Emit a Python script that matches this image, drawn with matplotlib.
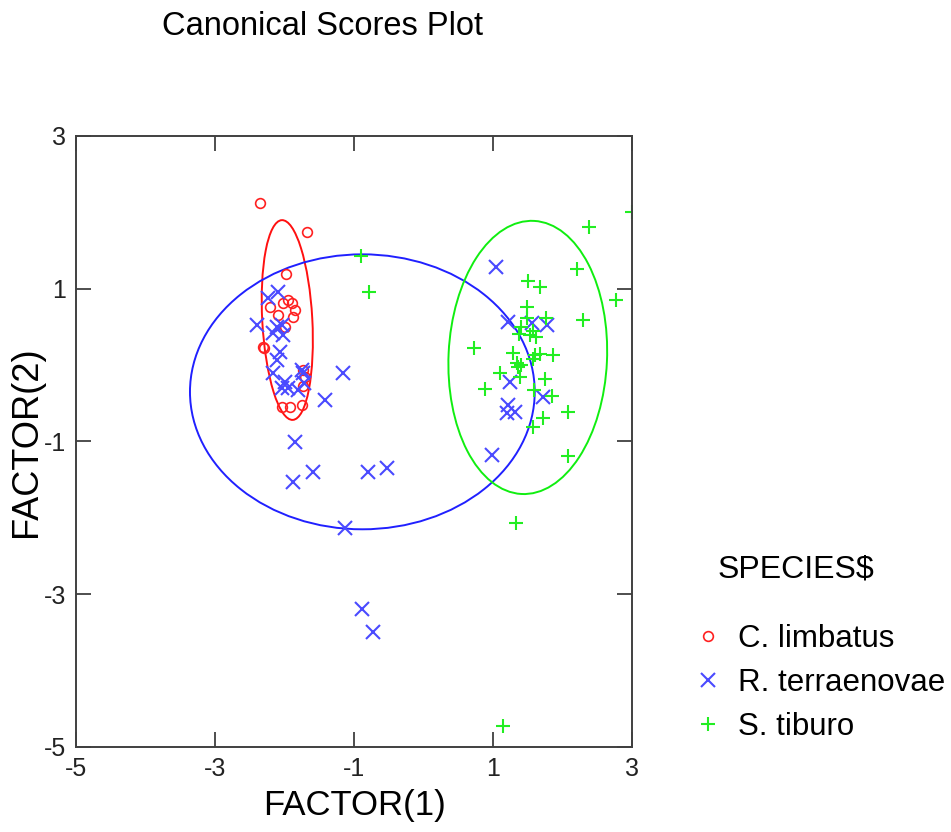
import matplotlib.pyplot as plt
from matplotlib.patches import Ellipse

plt.rcParams['font.family'] = ['Liberation Sans', 'DejaVu Sans']
plt.rcParams['axes.unicode_minus'] = False

# C. limbatus scores (FACTOR(1), FACTOR(2))
limb_x = [-2.35, -1.68, -1.98, -1.95, -2.02, -1.89, -2.21, -1.85, -1.88, -2.09,
          -1.99, -2.31, -2.29, -1.73, -1.70, -1.73, -2.04, -1.92, -1.75]
limb_y = [2.12, 1.74, 1.19, 0.85, 0.81, 0.81, 0.76, 0.72, 0.63, 0.66,
          0.50, 0.24, 0.22, -0.06, -0.15, -0.28, -0.55, -0.55, -0.52]

# R. terraenovae scores
terr_x = [-2.09, -2.24, -2.40, -2.11, -2.04, -2.17, -2.02, -2.06, -2.11, -2.17,
          -1.75, -1.73, -1.16, -2.04, -1.95, -1.81, -1.42, -2.00, -1.72,
          -1.85, -1.88, -1.59, -0.80, -0.53, -1.13, -0.88, -0.73,
          1.04, 1.22, 1.56, 1.78, 1.24, 1.72, 1.22, 1.32, 1.20, 0.99]
terr_y = [0.96, 0.88, 0.53, 0.50, 0.53, 0.42, 0.40, 0.17, 0.07, -0.10,
          -0.06, -0.10, -0.10, -0.30, -0.30, -0.32, -0.46, -0.22, -0.23,
          -1.01, -1.53, -1.40, -1.40, -1.35, -2.13, -3.19, -3.49,
          1.29, 0.57, 0.55, 0.53, -0.22, -0.42, -0.52, -0.61, -0.63, -1.18]

# S. tiburo scores
tib_x = [3.00, 2.38, 2.21, 1.50, 1.68, 2.77, 1.49, 2.29, 1.49, 1.76,
         1.40, 1.38, 1.53, 1.58, 1.62, 0.73, 1.29, 1.60, 1.68, 1.86,
         1.35, 1.36, 1.40, 1.10, 1.39, 1.75, 1.57, 0.88, 1.85, 1.59,
         2.08, 1.72, 1.58, 2.08, 1.33, 1.14, -0.90, -0.78]
tib_y = [2.00, 1.81, 1.26, 1.10, 1.02, 0.85, 0.76, 0.59, 0.62, 0.62,
         0.50, 0.41, 0.40, 0.45, 0.37, 0.23, 0.16, 0.13, 0.15, 0.13,
         0.03, -0.02, 0.00, -0.10, -0.15, -0.18, 0.08, -0.31, -0.40, -0.33,
         -0.61, -0.69, -0.81, -1.19, -2.07, -4.73, 1.43, 0.96]

# confidence ellipses: center x, center y, width, height, angle
ell_limb = (-1.96, 0.59, 0.72, 2.62, 3.5)
ell_terr = (-0.88, -0.35, 4.96, 3.60, 0.0)
ell_tib = (1.50, 0.10, 2.28, 3.58, -3.0)

red = '#ff2020'
blue = '#4a4aff'
green = '#22ee22'

fig = plt.figure(figsize=(9.51, 8.32), dpi=100)
ax = fig.add_axes([0.0799, 0.1022, 0.5847, 0.7344])

ax.plot(limb_x, limb_y, 'o', mfc='none', mec=red, ms=7, mew=1.2, label='C. limbatus')
ax.plot(terr_x, terr_y, 'x', color=blue, ms=10, mew=1.5, label='R. terraenovae')
ax.plot(tib_x, tib_y, '+', color=green, ms=10, mew=1.5, label='S. tiburo')

for (cx, cy, w, h, a), col in [(ell_limb, '#ff1010'), (ell_terr, '#2020ff'), (ell_tib, '#10ee10')]:
    ax.add_patch(Ellipse((cx, cy), w, h, angle=a, fill=False, ec=col, lw=1.4))

ax.set_xlim(-5, 3)
ax.set_ylim(-5, 3)
ax.set_xticks([-5, -3, -1, 1, 3])
ax.set_yticks([-5, -3, -1, 1, 3])
ax.tick_params(direction='in', length=11, width=1.3, color='#404040',
               labelsize=18, labelcolor='#222222', top=True, right=True, pad=7)
for s in ax.spines.values():
    s.set_color('#404040')
    s.set_linewidth(1.4)

ax.set_xlabel('FACTOR(1)', fontsize=25, labelpad=6)
ax.set_ylabel('FACTOR(2)', fontsize=26, labelpad=0)

fig.text(0.17, 0.968, 'Canonical Scores Plot', fontsize=23.5, va='center', ha='left')

fig.text(0.754, 0.315, 'SPECIES$', fontsize=23, va='center', ha='left')
fig.legend(loc='upper left', bbox_to_anchor=(0.728, 0.25), frameon=False,
           fontsize=22.5, handlelength=1.0, handletextpad=0.45, labelspacing=0.45,
           borderpad=0, borderaxespad=0)

fig.savefig('out.png', dpi=100)
